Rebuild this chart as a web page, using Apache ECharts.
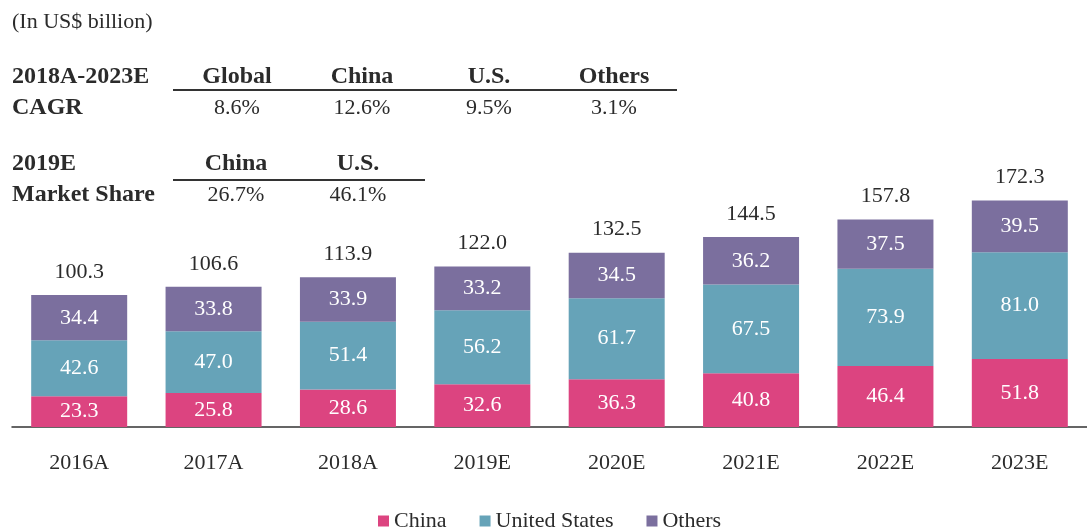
<!DOCTYPE html>
<html><head><meta charset="utf-8">
<script src="https://cdn.jsdelivr.net/npm/echarts@6/dist/echarts.min.js"></script>
<style>html,body{margin:0;padding:0;background:#fff}#c{width:1087px;height:528px}</style>
</head><body><div id="c"></div>
<script>
const categories = ['2016A','2017A','2018A','2019E','2020E','2021E','2022E','2023E'];
const china = [23.3,25.8,28.6,32.6,36.3,40.8,46.4,51.8];
const unitedStates = [42.6,47.0,51.4,56.2,61.7,67.5,73.9,81.0];
const others = [34.4,33.8,33.9,33.2,34.5,36.2,37.5,39.5];
const totals = [100.3,106.6,113.9,122.0,132.5,144.5,157.8,172.3];
const cagrTitle = ['2018A-2023E','CAGR'];
const cagrHeaders = ['Global','China','U.S.','Others'];
const cagrValues = ['8.6%','12.6%','9.5%','3.1%'];
const shareTitle = ['2019E','Market Share'];
const shareHeaders = ['China','U.S.'];
const shareValues = ['26.7%','46.1%'];
const unitNote = '(In US$ billion)';

const FONT = '"Liberation Serif","Times New Roman",serif';
const TXT = '#2b2b2b';
const FS = 22;
const FSB = 24;
const colors = {China:'#dc4480', 'United States':'#66a3b8', Others:'#7b6f9e'};

function txt(text,x,y,opts){
  opts = opts||{};
  return {type:'text', x:x, y:y, silent:true, style:{text:text, fill:TXT,
    font:(opts.bold?'bold '+FSB:FS)+'px '+FONT, textAlign:opts.align||'left', textVerticalAlign:'middle'}};
}
function line(x1,x2,y){
  return {type:'line', silent:true, shape:{x1:x1,y1:y,x2:x2,y2:y}, style:{stroke:'#333', lineWidth:2}};
}
const cagrX = [237,362,489,614];
const shareX = [236,358];
const graphics = [txt(unitNote,12,22)];
graphics.push(txt(cagrTitle[0],12,77,{bold:true}), txt(cagrTitle[1],12,108,{bold:true}));
cagrHeaders.forEach((h,i)=>graphics.push(txt(h,cagrX[i],77,{bold:true,align:'center'})));
cagrValues.forEach((v,i)=>graphics.push(txt(v,cagrX[i],108,{align:'center'})));
graphics.push(line(173,677,90));
graphics.push(txt(shareTitle[0],12,164,{bold:true}), txt(shareTitle[1],12,195,{bold:true}));
shareHeaders.forEach((h,i)=>graphics.push(txt(h,shareX[i],164,{bold:true,align:'center'})));
shareValues.forEach((v,i)=>graphics.push(txt(v,shareX[i],195,{align:'center'})));
graphics.push(line(173,425,180));

function barSeries(name,data){
  return {name:name, type:'bar', stack:'t', data:data, barWidth:96,
    itemStyle:{color:colors[name]},
    label:{show:true, position:'inside', color:'#fff', fontSize:FS, fontFamily:FONT,
      formatter:p=>p.value.toFixed(1)}};
}

const chart = echarts.init(document.getElementById('c'));
chart.setOption({
  animation:false,
  textStyle:{fontFamily:FONT},
  grid:{left:12, right:-15, top:164, bottom:101},
  xAxis:{type:'category', data:categories,
    axisLine:{lineStyle:{color:'#333', width:1.5}}, axisTick:{show:false},
    axisLabel:{color:TXT, fontSize:FS, fontFamily:FONT, margin:25}},
  yAxis:{type:'value', min:0, max:200, show:false, splitLine:{show:false}},
  legend:{data:['China','United States','Others'], left:373, top:505, icon:'rect',
    itemWidth:11, itemHeight:11, itemGap:33,
    textStyle:{color:TXT, fontSize:FS, fontFamily:FONT}},
  graphic:graphics,
  series:[
    barSeries('China',china),
    barSeries('United States',unitedStates),
    barSeries('Others',others),
    {name:'Total', type:'scatter', data:totals, symbolSize:0.1, silent:true,
      itemStyle:{color:'#ffffff'}, z:5,
      label:{show:true, position:'top', distance:12, color:TXT, opacity:1, fontSize:FS, fontFamily:FONT,
        formatter:p=>p.value.toFixed(1)}}
  ]
});
</script></body></html>
